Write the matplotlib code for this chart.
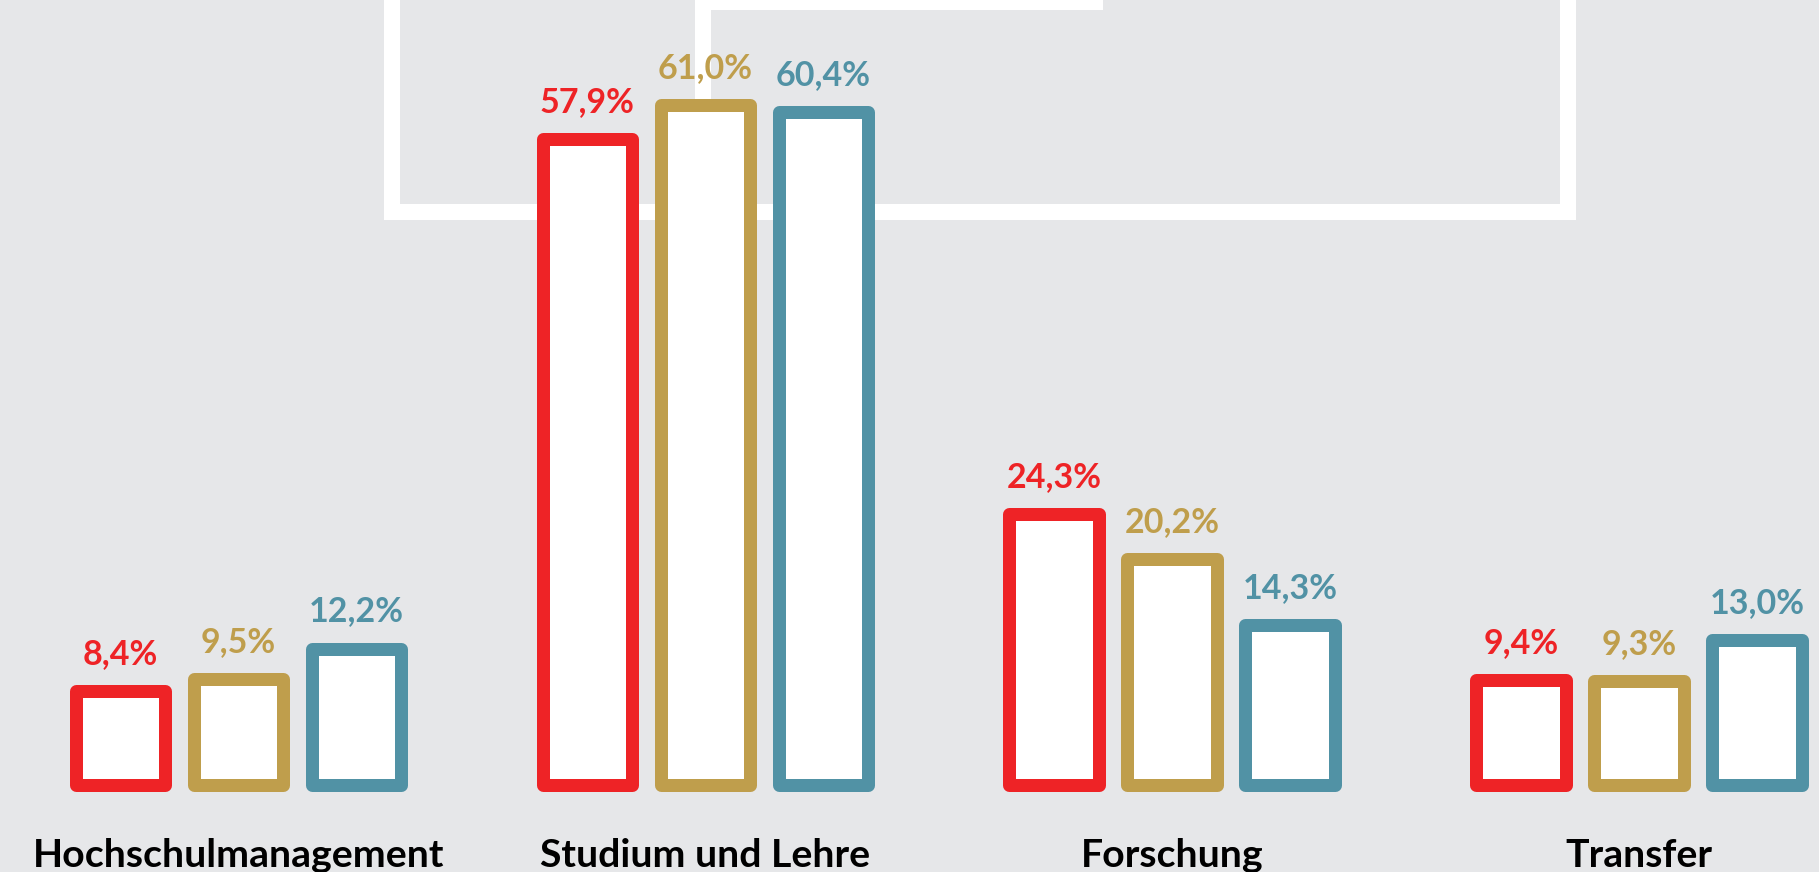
import numpy as np
import matplotlib.pyplot as plt
from matplotlib.patches import Rectangle

# Daten
kategorien = ["Hochschulmanagement", "Studium und Lehre", "Forschung", "Transfer"]
werte_rot = [8.4, 57.9, 24.3, 9.4]
werte_gold = [9.5, 61.0, 20.2, 9.3]
werte_blau = [12.2, 60.4, 14.3, 13.0]
label_rot = ["8,4%", "57,9%", "24,3%", "9,4%"]
label_gold = ["9,5%", "61,0%", "20,2%", "9,3%"]
label_blau = ["12,2%", "60,4%", "14,3%", "13,0%"]

rot = "#EE2326"
gold = "#BF9E4C"
blau = "#5192A5"
hg = "#E6E7E9"

plt.rcParams['font.family'] = ['Lato', 'DejaVu Sans']

W, H = 1819, 872
fig = plt.figure(figsize=(W / 100, H / 100), dpi=100)
fig.patch.set_facecolor(hg)
ax = fig.add_axes([0, 0, 1, 1])
ax.set_facecolor(hg)

# Skalierung: 11.14 px pro Prozent, Nulllinie 87.5 px ueber Unterkante
px_pro_proz = 11.14
y0 = 87.5
ax.set_ylim(-y0 / px_pro_proz, (H - y0) / px_pro_proz)
gruppe_px = 466.8
start_px = 238.5
ax.set_xlim(-start_px / gruppe_px, (W - start_px) / gruppe_px)
ax.axis("off")

x = np.arange(len(kategorien))
abstand = 118 / gruppe_px
breite = 89.5 / gruppe_px
lw = 13 * 72 / 100

# weisser Rahmen oben (abgeschnitten)
def px_rect(x1, y1, x2, y2):
    # Pixel von oben links -> Figurenanteile
    r = Rectangle((x1 / W, 1 - y2 / H), (x2 - x1) / W, (y2 - y1) / H,
                  transform=fig.transFigure, facecolor="white", edgecolor="none",
                  zorder=0.5, clip_on=False)
    ax.add_patch(r)

px_rect(384, -5, 400, 220)
px_rect(384, 204, 1576, 220)
px_rect(1560, -5, 1576, 220)
px_rect(695, -5, 711, 220)
px_rect(695, -5, 1103, 10)

for off, werte, labels, farbe in [(-abstand, werte_rot, label_rot, rot),
                                  (0, werte_gold, label_gold, gold),
                                  (abstand, werte_blau, label_blau, blau)]:
    bars = ax.bar(x + off, werte, width=breite, facecolor="white", edgecolor=farbe,
                  linewidth=lw, joinstyle="round", zorder=2, clip_on=False)
    for b, t in zip(bars, labels):
        ax.annotate(t, (b.get_x() + b.get_width() / 2, b.get_height()),
                    xytext=(0, 19.5), textcoords="offset points",
                    ha="center", va="baseline", color=farbe,
                    fontsize=24.5, fontweight="bold", zorder=3)

for i, k in enumerate(kategorien):
    ax.text(i, -(y0 - 5) / px_pro_proz, k, ha="center", va="baseline",
            fontsize=28.3, fontweight="bold", color="black", zorder=3)

fig.savefig("out.png", dpi=100, facecolor=hg)
